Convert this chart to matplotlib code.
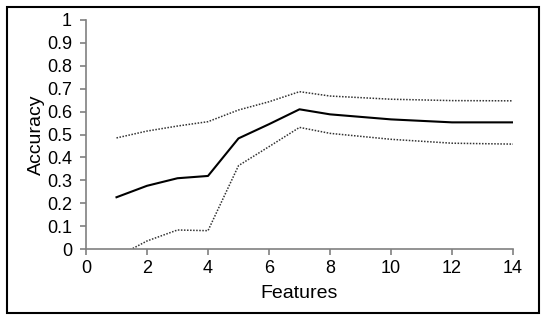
import matplotlib.pyplot as plt
from matplotlib.patches import Rectangle

plt.rcParams['font.family'] = ['Liberation Sans', 'DejaVu Sans']

features = [1, 2, 3, 4, 5, 6, 7, 8, 10, 12, 14]
acc_mean = [0.226, 0.276, 0.309, 0.319, 0.483, 0.545, 0.610, 0.588, 0.566, 0.553, 0.553]
acc_upper = [0.485, 0.515, 0.537, 0.556, 0.607, 0.643, 0.687, 0.668, 0.654, 0.648, 0.647]
acc_lower = [-0.035, 0.035, 0.083, 0.080, 0.364, 0.447, 0.531, 0.505, 0.479, 0.462, 0.458]

fig = plt.figure(figsize=(5.5, 3.22), dpi=100)
ax = fig.add_axes([86 / 550, 1 - 249 / 322, 427 / 550, 229 / 322])

ax.plot(features, acc_mean, color='black', lw=1.5)
ax.plot(features, acc_upper, color='#333333', lw=1.1, ls=(0, (1, 1)))
ax.plot(features, acc_lower, color='#333333', lw=1.1, ls=(0, (1, 1)))

ax.set_xlim(0, 14)
ax.set_ylim(0, 1)
ax.set_xticks(range(0, 15, 2))
ax.set_yticks([i / 10 for i in range(11)])
ax.set_yticklabels(['0'] + ['%.1f' % (i / 10) for i in range(1, 10)] + ['1'])

for s in ['top', 'right']:
    ax.spines[s].set_visible(False)
for s in ['left', 'bottom']:
    ax.spines[s].set_color('#808080')
    ax.spines[s].set_linewidth(1.2)
ax.tick_params(colors='#808080', labelcolor='black', labelsize=13, length=4, width=1.2, direction='out')
ax.tick_params(axis='x', pad=4)
ax.tick_params(axis='y', pad=6)

ax.set_xlabel('Features', fontsize=14, labelpad=6)
ax.set_ylabel('Accuracy', fontsize=14, labelpad=1.5)

fig.patches.append(Rectangle((7 / 550, 1 - 313 / 322), 532 / 550, 306 / 322,
                             transform=fig.transFigure, fill=False, ec='black', lw=1.5))

fig.savefig('out.png', dpi=100)
